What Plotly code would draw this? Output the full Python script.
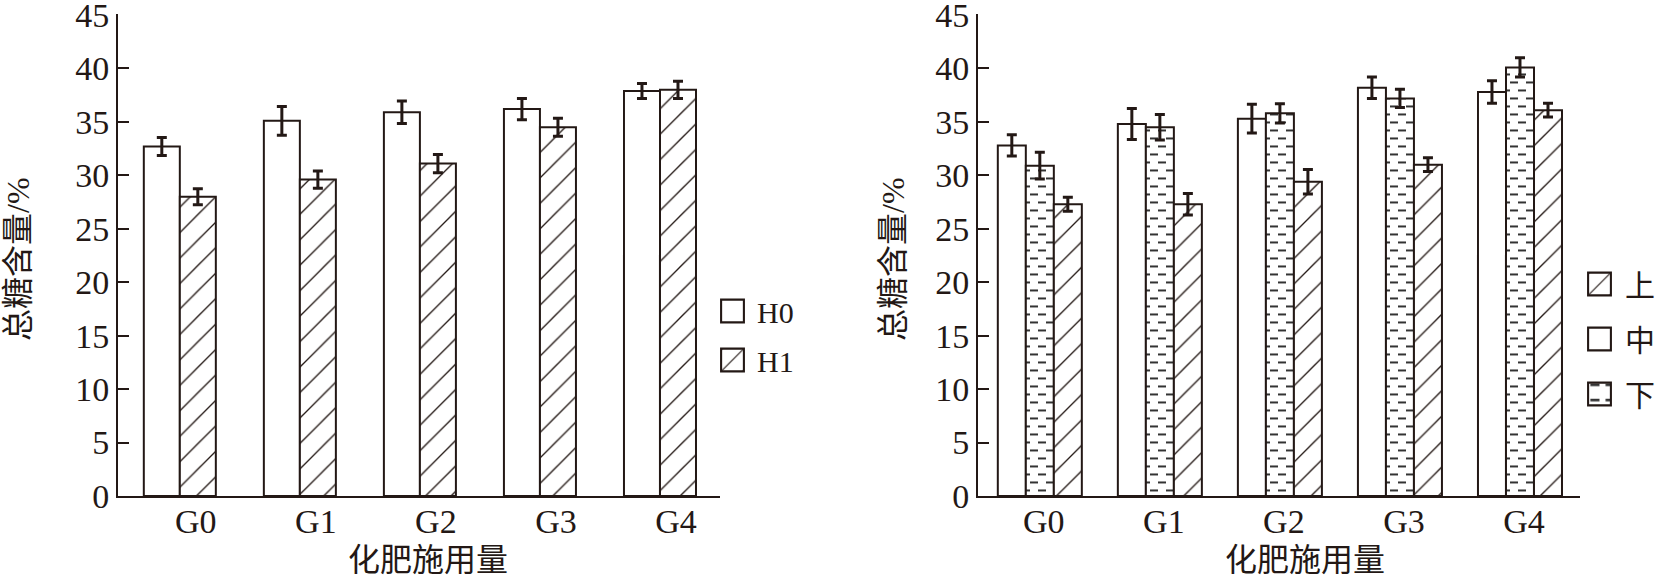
import plotly.graph_objects as go

# ---------------- data ----------------
groups = ["G0", "G1", "G2", "G3", "G4"]

# left panel
h0_name = "H0"
h0_vals = [32.7, 35.1, 35.9, 36.2, 37.9]
h0_err = [0.85, 1.35, 1.05, 1.0, 0.7]
h1_name = "H1"
h1_vals = [28.0, 29.6, 31.1, 34.5, 38.0]
h1_err = [0.75, 0.8, 0.85, 0.85, 0.8]

# right panel (bar order in each group: 中, 下, 上)
mid_name = "中"
mid_vals = [32.8, 34.8, 35.3, 38.2, 37.8]
mid_err = [1.0, 1.45, 1.35, 1.0, 1.05]
low_name = "下"
low_vals = [30.9, 34.5, 35.8, 37.2, 40.1]
low_err = [1.25, 1.2, 0.9, 0.85, 0.9]
up_name = "上"
up_vals = [27.3, 27.3, 29.4, 31.0, 36.1]
up_err = [0.65, 1.0, 1.15, 0.65, 0.65]

y_ticks = [0, 5, 10, 15, 20, 25, 30, 35, 40, 45]
y_title = "总糖含量/%"
x_title = "化肥施用量"

# ---------------- style ----------------
W, H = 1660, 582
INK = "#231815"
DASH_INK = "#333333"
FONT = "Liberation Serif, Times New Roman, Noto Sans CJK SC, serif"
FS_TICK = 34
FS = 32

hatch = dict(shape="/", size=18, solidity=0.075, fgcolor=INK, bgcolor="white", fillmode="replace")
dash_path = "M4,3.1H12V4.9H4ZM0,11.1H4V12.9H0ZM12,11.1H16V12.9H12Z"
dashes = dict(path=dash_path, size=16, solidity=0.05, fgcolor=DASH_INK, bgcolor="white", fillmode="replace")


def err(v):
    return dict(type="data", array=v, visible=True, color=INK, thickness=3, width=5)


fig = go.Figure()

# left panel bars
fig.add_trace(go.Bar(x=groups, y=h0_vals, name=h0_name, error_y=err(h0_err),
                     offset=-0.3, width=0.3,
                     marker=dict(color="white", line=dict(color=INK, width=2)),
                     xaxis="x", yaxis="y", legend="legend", legendgroup="a"))
fig.add_trace(go.Bar(x=groups, y=h1_vals, name=h1_name, error_y=err(h1_err),
                     offset=0.0, width=0.3,
                     marker=dict(color="white", line=dict(color=INK, width=2), pattern=hatch),
                     xaxis="x", yaxis="y", legend="legend", legendgroup="b"))

# right panel bars
bw = 0.7 / 3
fig.add_trace(go.Bar(x=groups, y=mid_vals, name=mid_name, error_y=err(mid_err),
                     offset=-0.35, width=bw, legendrank=2,
                     marker=dict(color="white", line=dict(color=INK, width=2)),
                     xaxis="x2", yaxis="y2", legend="legend2", legendgroup="m"))
fig.add_trace(go.Bar(x=groups, y=low_vals, name=low_name, error_y=err(low_err),
                     offset=-0.35 + bw, width=bw, legendrank=3,
                     marker=dict(color="white", line=dict(color=INK, width=2), pattern=dashes),
                     xaxis="x2", yaxis="y2", legend="legend2", legendgroup="l"))
fig.add_trace(go.Bar(x=groups, y=up_vals, name=up_name, error_y=err(up_err),
                     offset=-0.35 + 2 * bw, width=bw, legendrank=1,
                     marker=dict(color="white", line=dict(color=INK, width=2), pattern=hatch),
                     xaxis="x2", yaxis="y2", legend="legend2", legendgroup="u"))

xax = dict(range=[-0.515, 4.5], showline=True, linecolor=INK, linewidth=2, ticks="",
           showgrid=False, zeroline=False, tickfont=dict(family=FONT, size=FS_TICK, color=INK),
           ticklabelstandoff=-6, automargin=False)
YMAX = 45.05
yax = dict(range=[0, YMAX], tickvals=y_ticks, showline=True, linecolor=INK, linewidth=2,
           ticks="inside", ticklen=11, tickwidth=2, tickcolor=INK, showgrid=False,
           zeroline=False, tickfont=dict(family=FONT, size=FS_TICK, color=INK),
           ticklabelstandoff=0, ticklabeloverflow="allow", automargin=False)

px_per = (496 - 15) / 45.0
top_px = 15 - (YMAX - 45) * px_per
ydom = [(H - 496) / H, (H - top_px) / H]
fig.update_layout(
    width=W, height=H, margin=dict(l=0, r=0, t=0, b=0, pad=0, autoexpand=False),
    paper_bgcolor="white", plot_bgcolor="white",
    barmode="overlay", showlegend=True,
    font=dict(family=FONT, size=FS, color=INK),
    xaxis=dict(xax, domain=[118 / W, 720 / W], anchor="y", ticklabelshift=16),
    yaxis=dict(yax, domain=ydom, anchor="x"),
    xaxis2=dict(xax, domain=[978 / W, 1580 / W], anchor="y2", ticklabelshift=4),
    yaxis2=dict(yax, domain=ydom, anchor="x2"),
    legend=dict(x=708 / W, y=1 - 285 / H, xanchor="left", yanchor="top",
                font=dict(family=FONT, size=30, color=INK), bgcolor="rgba(0,0,0,0)",
                tracegroupgap=7, traceorder="grouped", itemwidth=39),
    legend2=dict(x=1574 / W, y=1 - 258 / H, xanchor="left", yanchor="top",
                 font=dict(family=FONT, size=30, color=INK), bgcolor="rgba(0,0,0,0)",
                 tracegroupgap=13, traceorder="grouped", itemwidth=41),
)

ann_font = dict(family=FONT, size=FS, color=INK)
for cx in (18, 893):
    fig.add_annotation(text=y_title, x=cx / W, y=1 - 259 / H, xref="paper", yref="paper",
                       textangle=-90, showarrow=False, font=ann_font,
                       xanchor="center", yanchor="middle")
for cx in (428, 1305):
    fig.add_annotation(text=x_title, x=cx / W, y=1 - 560 / H, xref="paper", yref="paper",
                       showarrow=False, font=ann_font, xanchor="center", yanchor="middle")

# page without body margin, and legend swatches enlarged to the reference size
post = """
document.body.style.margin = '0';
document.body.style.overflow = 'hidden';
var gd = document.getElementById('{plot_id}');
function fixLegend(){
  gd.querySelectorAll('g.legendpoints path').forEach(function(p){
    var t = p.getAttribute('transform') || '';
    if (t.indexOf('scale(') === -1) {
      p.setAttribute('transform', t + ' scale(1.9)');
    }
    p.style.strokeWidth = '1.1px';
  });
}
fixLegend();
gd.on('plotly_afterplot', fixLegend);
setTimeout(fixLegend, 200);
setTimeout(fixLegend, 800);
"""

fig.write_html("out.html", post_script=post, config={"displayModeBar": False})
